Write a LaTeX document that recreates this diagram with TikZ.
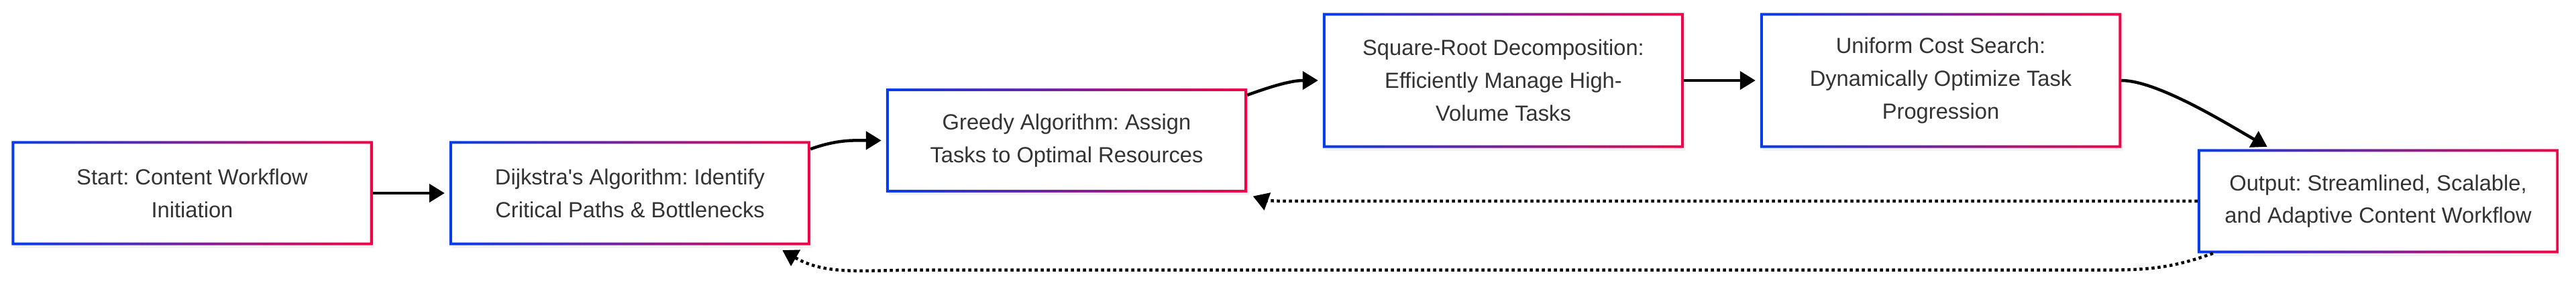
\documentclass[tikz,border=0pt]{standalone}
\usepackage{fontspec}
\setmainfont{Liberation Sans}
\usetikzlibrary{arrows.meta,positioning,shadows}
\definecolor{edgeblue}{RGB}{5,60,235}
\definecolor{edgered}{RGB}{240,5,70}
\definecolor{txt}{RGB}{51,51,51}
\frenchspacing

\begin{document}
\begin{tikzpicture}[
  stage/.style={fill=white, minimum width=5.37cm, minimum height=1.54cm, inner sep=0pt, align=center, text=txt,
    font=\fontsize{9.3pt}{13.9pt}\selectfont, drop shadow={shadow xshift=0.3mm, shadow yshift=-0.5mm, opacity=0.1}},
  tall/.style={stage, minimum height=2cm},
  arr/.style={-{Triangle[length=2.3mm, width=2.7mm]}, line width=0.45mm, shorten >=0.7mm},
  fb/.style={arr, dash pattern=on 0.45mm off 0.45mm}]
  \useasboundingbox (0,0) rectangle (38.4,4.22);
  \node[stage] (start) at (2.865,1.34) {Start: Content Workflow\\Initiation};
  \node[stage] (dijk) at (9.39,1.34) {Dijkstra\textquotesingle s Algorithm: Identify\\Critical Paths \& Bottlenecks};
  \node[stage] (greedy) at (15.90,2.125) {Greedy Algorithm: Assign\\Tasks to Optimal Resources};
  \node[tall] (sqrt) at (22.41,3.02) {Square-Root Decomposition:\\Efficiently Manage High-\\Volume Tasks};
  \node[tall] (ucs) at (28.93,3.02) {Uniform Cost Search:\\Dynamically Optimize Task\\Progression};
  \node[stage] (res) at (35.45,1.22) {Output: Streamlined, Scalable,\\and Adaptive Content Workflow};
  \foreach \n in {start,dijk,greedy,sqrt,ucs,res}
    \shade[left color=edgeblue, right color=edgered, even odd rule] (\n.south west) rectangle (\n.north east)
      ([shift={(0.4mm,0.4mm)}]\n.south west) rectangle ([shift={(-0.4mm,-0.4mm)}]\n.north east);
  \draw[arr] (start) -- (dijk);
  \draw[arr] ([yshift=-1.2mm]dijk.north east) to[out=20, in=180] (greedy.west);
  \draw[arr] ([yshift=-1mm]greedy.north east) to[out=20, in=180] (sqrt.west);
  \draw[arr] (sqrt) -- (ucs);
  \draw[arr] (ucs.east) .. controls +(0.55,0) and +(-0.6,0.34) .. ([xshift=1.1cm]res.north west);
  \draw[fb] (res.west) -- ([xshift=6mm]greedy.east |- res.west) to[out=180, in=-20] ([xshift=0.2mm,yshift=-0.3mm]greedy.south east);
  \draw[fb] ([xshift=2.3mm]res.south west) to[out=200, in=0] ++(-1.6,-0.25)
    -- ([xshift=1.6cm,yshift=-3.7mm]dijk.south east) to[out=180, in=-30] ([xshift=-4.8mm,yshift=-0.4mm]dijk.south east);
\end{tikzpicture}
\end{document}
